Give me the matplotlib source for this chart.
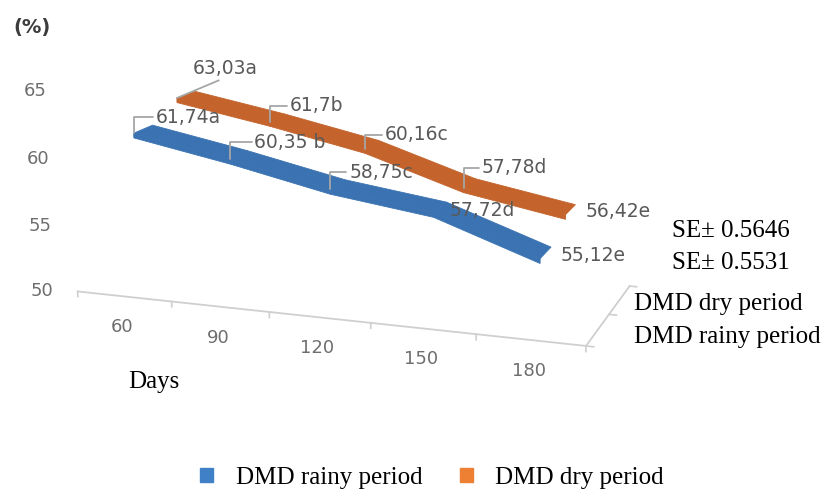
import numpy as np
import matplotlib
matplotlib.use("Agg")
import matplotlib.pyplot as plt
from matplotlib.patches import Patch
from matplotlib.text import Annotation
from mpl_toolkits.mplot3d import proj3d

# data
days = ["60", "90", "120", "150", "180"]
rainy = [61.74, 60.35, 58.75, 57.72, 55.12]
dry = [63.03, 61.70, 60.16, 57.78, 56.42]
rainy_labels = ["61,74a", "60,35 b", "58,75c", "57,72d", "55,12e"]
dry_labels = ["63,03a", "61,7b", "60,16c", "57,78d", "56,42e"]
value_ticks = [50, 55, 60, 65]
se_lines = ["SE\u00b1 0.5646", "SE\u00b1 0.5531"]
series_names = ["DMD dry period", "DMD rainy period"]

# colours
blue = "#3b73b2"
orange = "#c4632b"
blue_leg = "#3f80c6"
orange_leg = "#ee8033"
gray_txt = "#595959"
gray_tick = "#6e6e6e"
gray_line = "#cfcfcf"
serif = "Liberation Serif"


class Annotation3D(Annotation):
    # annotation whose anchor is a 3d data point
    def __init__(self, text, xyz, **kw):
        super().__init__(text, xy=(0, 0), **kw)
        self.xyz = xyz

    def draw(self, renderer):
        x2, y2, _ = proj3d.proj_transform(*self.xyz, self.axes.M)
        self.xy = (x2, y2)
        super().draw(renderer)


def label3d(ax, text, xyz, dx, dy, leader=None, **kw):
    arrow = None
    if leader == "angle":
        arrow = dict(arrowstyle="-", color="#a6a6a6", lw=1.3, shrinkA=0, shrinkB=0,
                     connectionstyle="angle,angleA=0,angleB=90,rad=0")
    elif leader == "line":
        arrow = dict(arrowstyle="-", color="#a6a6a6", lw=1.3, shrinkA=0, shrinkB=0,
                     relpos=(0.5, 0.0))
    a = Annotation3D(text, xyz, xytext=(dx, dy), textcoords="offset pixels",
                     annotation_clip=False, zorder=10, arrowprops=arrow, **kw)
    ax.add_artist(a)


W, H = 834, 490
fig = plt.figure(figsize=(W / 100, H / 100), dpi=100)

# 3d axes placed so the box centre lands near (353, 156) px
S = 834
cx, cy = 355, 157
left = (cx - 0.5135 * S) / W
bottom = ((H - cy) - 0.5135 * S) / H
ax = fig.add_axes([left, bottom, S / W, S / H], projection="3d",
                  proj_type="persp", focal_length=0.404)
ax.view_init(elev=12.4, azim=-70.5)
ax.set_box_aspect((522, 205, 274), zoom=0.727)
ax.set_xlim(-0.5, 4.5)
ax.set_ylim(0, 2)
ax.set_zlim(50, 70)
ax.set_axis_off()
ax.patch.set_alpha(0)

n = len(days)
x = np.arange(n)

# floor front edge + ticks
ax.plot([-0.5, n - 0.5], [0, 0], [50, 50], color=gray_line, lw=1.3, clip_on=False)
for t in np.arange(-0.5, n, 1.0):
    ax.plot([t, t], [0, 0], [50, 49.6], color=gray_line, lw=1.2, clip_on=False)
# depth axis on the right
ax.plot([n - 0.5, n - 0.5], [0, 2], [50, 50], color=gray_line, lw=1.3, clip_on=False)
for d in [0, 1, 2]:
    ax.plot([n - 0.5, n - 0.43], [d, d], [50, 50], color=gray_line, lw=1.2, clip_on=False)

# ribbons: top face plus a thin front face
ribbon_w = 0.42
thick = 0.35
for vals, d0, col in [(dry, 1.3, orange), (rainy, 0.3, blue)]:
    vals = np.asarray(vals)
    X = np.vstack([x, x])
    Y = np.vstack([np.full(n, d0), np.full(n, d0 + ribbon_w)])
    Z = np.vstack([vals, vals])
    ax.plot_surface(X, Y, Z, color=col, shade=False, linewidth=0.6,
                    edgecolor=col, antialiased=True, clip_on=False)
    Yf = np.vstack([np.full(n, d0), np.full(n, d0)])
    Zf = np.vstack([vals, vals - thick])
    ax.plot_surface(X, Yf, Zf, color=col, shade=False, linewidth=0.6,
                    edgecolor=col, antialiased=True, clip_on=False)

# value axis labels
for v in value_ticks:
    label3d(ax, str(v), (-0.5, 0, v), -24, 0, ha="right", va="center",
            fontsize=13, color=gray_tick)

# category labels
for i, d in enumerate(days):
    label3d(ax, d, (i, 0, 50), -2, -31, ha="center", va="center",
            fontsize=13, color=gray_tick)

# data labels
rainy_off = [(22, 16), (24, 17), (19, 17), (16, 2), (20, 3)]
dry_off = [(16, 30), (20, 16), (20, 14), (18, 20), (20, 3)]
rainy_lead = ["angle", "angle", "angle", None, None]
dry_lead = ["line", "angle", "angle", "angle", None]
for i in range(n):
    label3d(ax, rainy_labels[i], (i, 0.3, rainy[i]), *rainy_off[i], leader=rainy_lead[i],
            ha="left", va="center", fontsize=13.5, color=gray_txt)
    label3d(ax, dry_labels[i], (i, 1.3, dry[i]), *dry_off[i], leader=dry_lead[i],
            ha="left", va="center", fontsize=13.5, color=gray_txt)

# loose texts
fig.text(13 / W, 1 - 27 / H, "(%)", fontsize=14, fontweight="bold",
         color="#3c3c3c", va="center")
fig.text(672 / W, 1 - 237 / H, se_lines[0], family=serif, fontsize=18, va="baseline")
fig.text(672 / W, 1 - 269 / H, se_lines[1], family=serif, fontsize=18, va="baseline")
fig.text(634 / W, 1 - 310 / H, series_names[0], family=serif, fontsize=18, va="baseline")
fig.text(634 / W, 1 - 343 / H, series_names[1], family=serif, fontsize=18, va="baseline")
fig.text(128 / W, 1 - 388 / H, "Days", family=serif, fontsize=18, va="baseline")

handles = [Patch(color=blue_leg, label="DMD rainy period"),
           Patch(color=orange_leg, label="DMD dry period")]
fig.legend(handles=handles, ncol=2, loc="center", bbox_to_anchor=(432 / W, 1 - 478 / H),
           frameon=False, prop={"family": serif, "size": 18},
           handlelength=0.52, handleheight=0.52, handletextpad=0.9,
           columnspacing=1.5, borderpad=0, borderaxespad=0)

fig.savefig("out.png", dpi=100)
